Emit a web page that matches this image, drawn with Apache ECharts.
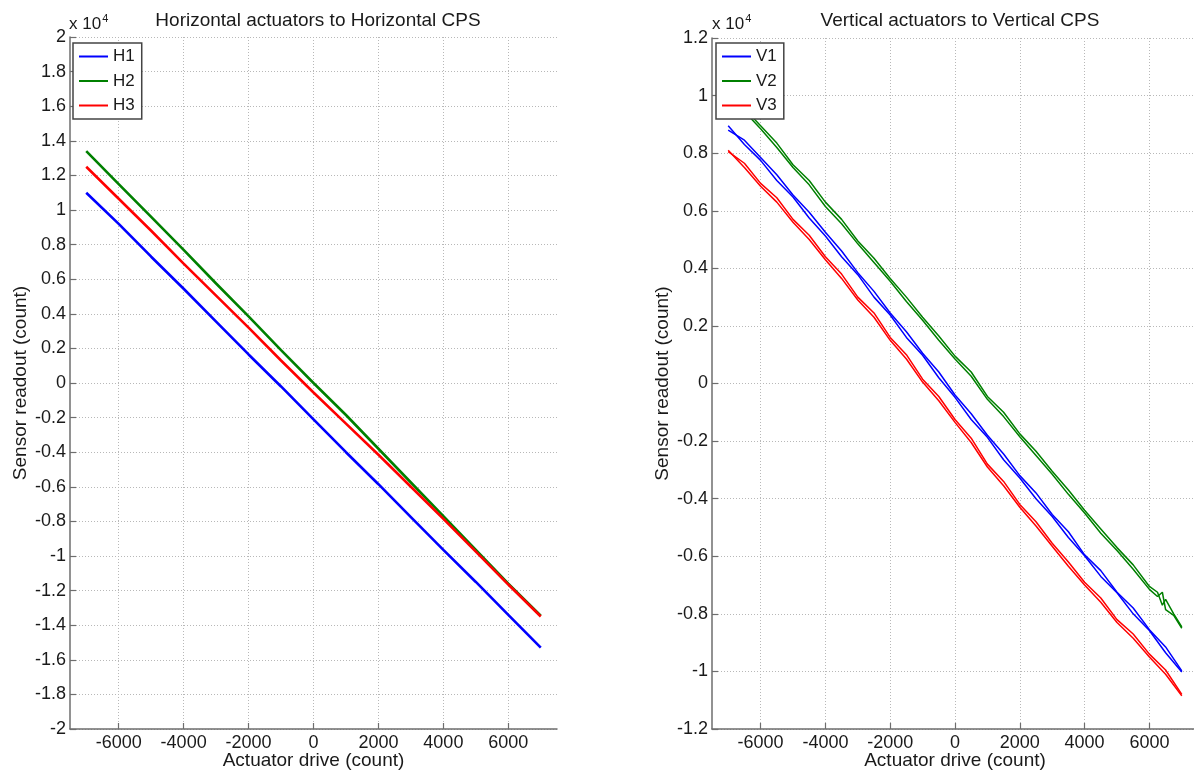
<!DOCTYPE html>
<html>
<head>
<meta charset="utf-8">
<script src="https://cdn.jsdelivr.net/npm/echarts@6/dist/echarts.min.js"></script>
<style>
  html, body { margin: 0; padding: 0; background: #fff; }
  #chart { width: 1194px; height: 771px; }
</style>
</head>
<body>
<div id="chart"></div>
<script>
// Actuator drive levels (count)
const xsH = [-7000, -6000, -5000, -4000, -3000, -2000, -1000, 0, 1000, 2000, 3000, 4000, 5000, 6000, 7000];
const xsV = [-7000, -6500, -6000, -5500, -5000, -4500, -4000, -3500, -3000, -2500, -2000, -1500, -1000, -500, 0,
             500, 1000, 1500, 2000, 2500, 3000, 3500, 4000, 4500, 5000, 5500, 6000, 6500, 7000];
const xsV2 = [-7000, -6500, -6000, -5500, -5000, -4500, -4000, -3500, -3000, -2500, -2000, -1500, -1000, -500, 0,
              500, 1000, 1500, 2000, 2500, 3000, 3500, 4000, 4500, 5000, 5500, 6000, 6250, 6400, 6500, 6750, 7000];
const xTicks = [-6000, -4000, -2000, 0, 2000, 4000, 6000];

// Horizontal CPS readout (count)
const H1 = [11000, 9200, 7300, 5450, 3550, 1650, -200, -2100, -4000, -5850, -7750, -9650, -11500, -13400, -15300];
const H2 = [13400, 11500, 9600, 7700, 5750, 3850, 1900, 0, -1850, -3800, -5750, -7700, -9650, -11600, -13450];
const H3 = [12500, 10650, 8800, 6900, 5050, 3200, 1300, -550, -2350, -4150, -6000, -7850, -9750, -11650, -13500];

// Vertical CPS readout (count), forward and return sweeps
const V1a = [8950, 8300, 7750, 7050, 6480, 5750, 5120, 4400, 3780, 3000, 2380, 1600, 980, 200, -480,
             -1250, -1870, -2650, -3280, -4000, -4620, -5350, -5980, -6700, -7270, -8000, -8580, -9350, -10020];
const V1b = [8800, 8450, 7850, 7250, 6550, 5950, 5250, 4600, 3850, 3200, 2450, 1800, 1050, 400, -400,
             -1050, -1800, -2450, -3200, -3800, -4550, -5150, -5950, -6500, -7250, -7800, -8550, -9150, -9980];
const V2a = [10100, 9450, 8850, 8200, 7500, 6900, 6150, 5550, 4850, 4200, 3550, 2850, 2200, 1500, 850,
             250, -550, -1150, -1850, -2500, -3150, -3850, -4500, -5200, -5800, -6450, -7150, -7400, -7250, -7850, -8050, -8500];
const V2b = [10000, 9550, 8950, 8350, 7600, 7050, 6300, 5700, 4950, 4350, 3650, 3000, 2300, 1650, 950,
             400, -450, -1000, -1750, -2350, -3050, -3700, -4400, -5050, -5700, -6300, -7050, -7250, -7700, -7500, -8000, -8450];
const V3a = [8100, 7500, 6850, 6300, 5600, 5000, 4300, 3650, 2900, 2300, 1500, 850, 50, -600, -1350,
             -2050, -2900, -3550, -4300, -4950, -5650, -6350, -7000, -7600, -8300, -8850, -9500, -10100, -10850];
const V3b = [8050, 7650, 6950, 6450, 5700, 5150, 4400, 3800, 3000, 2450, 1600, 1000, 150, -450, -1250,
             -1900, -2800, -3400, -4200, -4800, -5550, -6200, -6900, -7450, -8200, -8700, -9400, -9950, -10800];

const BLUE = '#0000ff', GREEN = '#008000', RED = '#ff0000';
const FONT = '"Liberation Sans", Arial, sans-serif';
const TXT = '#1a1a1a';
const AXIS = '#6e6e6e';
const GRIDC = '#b8b8b8';

const pairs = (xs, ys) => xs.map((x, i) => [x, ys[i]]);
const fmtY = v => String(+(v / 1e4).toFixed(1));

function xAxisCfg(gridIndex) {
  return {
    type: 'value', gridIndex, min: -7500, max: 7500,
    name: 'Actuator drive (count)', nameLocation: 'middle', nameGap: 22, nameMoveOverlap: false,
    nameTextStyle: { fontFamily: FONT, fontSize: 19, color: TXT },
    axisLine: { show: true, onZero: false, lineStyle: { color: AXIS, width: 1.5 } },
    axisTick: { show: true, inside: true, length: 6, customValues: xTicks, lineStyle: { color: AXIS, width: 1.2 } },
    axisLabel: { customValues: xTicks, formatter: v => String(v), margin: 5, fontFamily: FONT, fontSize: 18, color: TXT },
    splitLine: { show: true, lineStyle: { color: GRIDC, width: 1, type: [1, 2] } }
  };
}
function yAxisCfg(gridIndex, lim) {
  return {
    type: 'value', gridIndex, min: -lim, max: lim, interval: 2000,
    name: 'Sensor readout (count)', nameLocation: 'middle', nameGap: 40, nameMoveOverlap: false,
    nameTextStyle: { fontFamily: FONT, fontSize: 19, color: TXT },
    axisLine: { show: true, onZero: false, lineStyle: { color: AXIS, width: 1.5 } },
    axisTick: { show: true, inside: true, length: 6, lineStyle: { color: AXIS, width: 1.2 } },
    axisLabel: { formatter: fmtY, margin: 4, fontFamily: FONT, fontSize: 18, color: TXT },
    splitLine: { show: true, lineStyle: { color: GRIDC, width: 1, type: [1, 2] } }
  };
}
function lineSeries(name, xi, yi, data, color, width) {
  return {
    name, type: 'line', xAxisIndex: xi, yAxisIndex: yi, data, color,
    symbol: 'none', animation: false, lineStyle: { color, width }
  };
}
function legendCfg(left, names) {
  return {
    orient: 'vertical', left, top: 43, data: names, icon: 'rect',
    backgroundColor: '#fff', borderColor: '#444', borderWidth: 1.5, borderRadius: 0,
    padding: [5, 7, 5, 6], itemWidth: 29, itemHeight: 2, itemGap: 7.5,
    textStyle: { fontFamily: FONT, fontSize: 17, color: TXT }, selectedMode: false
  };
}
function exponent(left) {
  return {
    type: 'text', left, top: 13,
    style: {
      text: '{a|x 10}{b|4}',
      rich: {
        a: { fontFamily: FONT, fontSize: 17, fill: TXT, verticalAlign: 'bottom', lineHeight: 20 },
        b: { fontFamily: FONT, fontSize: 11, fill: TXT, verticalAlign: 'top', lineHeight: 20, padding: [0, 0, 9, 1] }
      }
    }
  };
}

const chart = echarts.init(document.getElementById('chart'), null, { renderer: 'canvas' });
chart.setOption({
  backgroundColor: '#fff',
  animation: false,
  title: [
    { text: 'Horizontal actuators to Horizontal CPS', left: 313, top: 6, textAlign: 'center',
      textStyle: { fontFamily: FONT, fontSize: 19, fontWeight: 'normal', color: TXT } },
    { text: 'Vertical actuators to Vertical CPS', left: 955, top: 6, textAlign: 'center',
      textStyle: { fontFamily: FONT, fontSize: 19, fontWeight: 'normal', color: TXT } }
  ],
  grid: [
    { left: 70, top: 37, width: 487, height: 692, outerBoundsMode: 'none' },
    { left: 712, top: 38, width: 486, height: 691, outerBoundsMode: 'none' }
  ],
  xAxis: [xAxisCfg(0), xAxisCfg(1)],
  yAxis: [yAxisCfg(0, 20000), yAxisCfg(1, 12000)],
  legend: [legendCfg(73, ['H1', 'H2', 'H3']), legendCfg(716, ['V1', 'V2', 'V3'])],
  graphic: [exponent(69), exponent(712)],
  series: [
    lineSeries('H1', 0, 0, pairs(xsH, H1), BLUE, 2.6),
    lineSeries('H2', 0, 0, pairs(xsH, H2), GREEN, 2.6),
    lineSeries('H3', 0, 0, pairs(xsH, H3), RED, 2.6),
    lineSeries('V1', 1, 1, pairs(xsV, V1a), BLUE, 1.5),
    lineSeries('V1', 1, 1, pairs(xsV, V1b), BLUE, 1.5),
    lineSeries('V2', 1, 1, pairs(xsV2, V2a), GREEN, 1.5),
    lineSeries('V2', 1, 1, pairs(xsV2, V2b), GREEN, 1.5),
    lineSeries('V3', 1, 1, pairs(xsV, V3a), RED, 1.5),
    lineSeries('V3', 1, 1, pairs(xsV, V3b), RED, 1.5)
  ]
});
</script>
</body>
</html>
